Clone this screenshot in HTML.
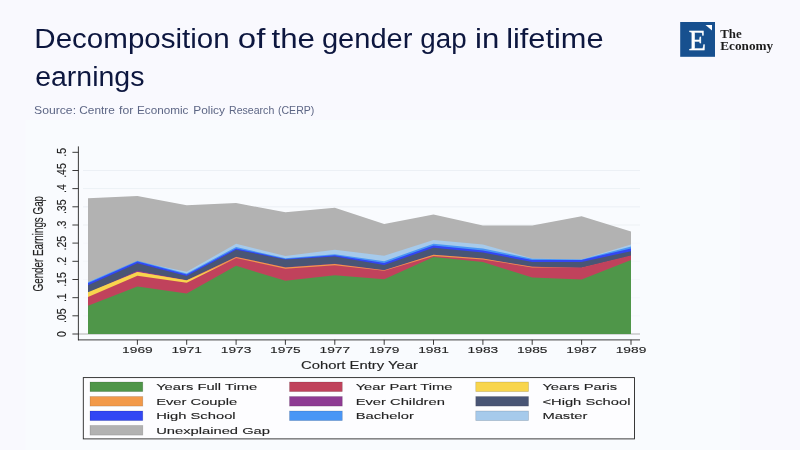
<!DOCTYPE html>
<html><head><meta charset="utf-8"><title>Decomposition of the gender gap in lifetime earnings</title>
<style>
html,body{margin:0;padding:0;}
body{width:800px;height:450px;overflow:hidden;background:#f9f9fe;font-family:"Liberation Sans",sans-serif;}
svg{display:block;position:absolute;left:0;top:0;}
svg text{font-family:"Liberation Sans",sans-serif;}
#chart text{stroke:#222;stroke-width:0.12px;}
.serif{font-family:"Liberation Serif",serif !important;}
</style></head><body>
<svg width="800" height="450" viewBox="0 0 800 450">
<rect x="0" y="0" width="800" height="450" fill="#f9f9fe"/>
<rect x="25.5" y="120" width="714.5" height="330" fill="#f9fbfe"/>
<!-- title -->
<text x="34.39" y="47.5" font-size="27" fill="#0d173f" textLength="195.27" lengthAdjust="spacingAndGlyphs">Decomposition</text>
<text x="237.88" y="47.5" font-size="27" fill="#0d173f" textLength="27.55" lengthAdjust="spacingAndGlyphs">of</text>
<text x="271.49" y="47.5" font-size="27" fill="#0d173f" textLength="43.44" lengthAdjust="spacingAndGlyphs">the</text>
<text x="321.94" y="47.5" font-size="27" fill="#0d173f" textLength="90.44" lengthAdjust="spacingAndGlyphs">gender</text>
<text x="420.29" y="47.5" font-size="27" fill="#0d173f" textLength="46.32" lengthAdjust="spacingAndGlyphs">gap</text>
<text x="475.03" y="47.5" font-size="27" fill="#0d173f" textLength="24.21" lengthAdjust="spacingAndGlyphs">in</text>
<text x="506.15" y="47.5" font-size="27" fill="#0d173f" textLength="97.46" lengthAdjust="spacingAndGlyphs">lifetime</text>
<text x="35.16" y="85.5" font-size="27" fill="#0d173f" textLength="109.29" lengthAdjust="spacingAndGlyphs">earnings</text>
<text x="34.01" y="113.7" font-size="11.5" fill="#5d6685" textLength="42.06" lengthAdjust="spacingAndGlyphs">Source:</text>
<text x="79.31" y="113.7" font-size="11.5" fill="#5d6685" textLength="35.52" lengthAdjust="spacingAndGlyphs">Centre</text>
<text x="119.08" y="113.7" font-size="11.5" fill="#5d6685" textLength="14.18" lengthAdjust="spacingAndGlyphs">for</text>
<text x="137.06" y="113.7" font-size="11.5" fill="#5d6685" textLength="51.37" lengthAdjust="spacingAndGlyphs">Economic</text>
<text x="193.25" y="113.7" font-size="11.5" fill="#5d6685" textLength="31.75" lengthAdjust="spacingAndGlyphs">Policy</text>
<text x="229.05" y="113.7" font-size="11.5" fill="#5d6685" textLength="45.24" lengthAdjust="spacingAndGlyphs">Research</text>
<text x="277.97" y="113.7" font-size="11.5" fill="#5d6685" textLength="36.39" lengthAdjust="spacingAndGlyphs">(CERP)</text>
<!-- logo -->
<rect x="680.2" y="22" width="34.8" height="34.8" fill="#17508f"/>
<polygon points="705.5,25 712,25 712,30.5" fill="#fff"/>
<text class="serif" x="697.3" y="49.8" font-size="30.4" fill="#fff" stroke="#fff" stroke-width="0.45" text-anchor="middle" textLength="17.2" lengthAdjust="spacingAndGlyphs">E</text>
<text class="serif" x="720.2" y="38.4" font-size="13.3" font-weight="bold" fill="#1c1c1c" textLength="21.5" lengthAdjust="spacingAndGlyphs">The</text>
<text class="serif" x="720.2" y="49.6" font-size="13.3" font-weight="bold" fill="#1c1c1c" textLength="53" lengthAdjust="spacingAndGlyphs">Economy</text>
<!-- chart -->
<defs><filter id="soft" x="0" y="0" width="800" height="450" filterUnits="userSpaceOnUse"><feGaussianBlur stdDeviation="0.38"/></filter></defs>
<g id="chart" filter="url(#soft)">
<line x1="83" x2="640" y1="315.8" y2="315.8" stroke="#e9eef3" stroke-opacity="0.35" stroke-width="0.8"/>
<line x1="83" x2="640" y1="297.7" y2="297.7" stroke="#e9eef3" stroke-opacity="0.35" stroke-width="0.8"/>
<line x1="83" x2="640" y1="279.5" y2="279.5" stroke="#e9eef3" stroke-opacity="0.35" stroke-width="0.8"/>
<line x1="83" x2="640" y1="261.3" y2="261.3" stroke="#e9eef3" stroke-opacity="0.35" stroke-width="0.8"/>
<line x1="83" x2="640" y1="243.1" y2="243.1" stroke="#e9eef3" stroke-opacity="0.35" stroke-width="0.8"/>
<line x1="83" x2="640" y1="225.0" y2="225.0" stroke="#e9eef3" stroke-opacity="1" stroke-width="0.8"/>
<line x1="83" x2="640" y1="206.8" y2="206.8" stroke="#e9eef3" stroke-opacity="1" stroke-width="0.8"/>
<line x1="83" x2="640" y1="188.6" y2="188.6" stroke="#e9eef3" stroke-opacity="1" stroke-width="0.8"/>
<line x1="83" x2="640" y1="170.5" y2="170.5" stroke="#e9eef3" stroke-opacity="1" stroke-width="0.8"/>
<line x1="78.4" x2="640" y1="334" y2="334" stroke="#a8a8a8" stroke-width="0.9"/>
<polygon points="88.0,198.3 137.4,196.1 186.7,205.2 236.1,203.1 285.4,212.2 334.8,207.7 384.2,223.9 433.5,214.4 482.9,225.6 532.2,225.6 581.6,216.2 631.0,231.4 631.0,246.4 581.6,261.4 532.2,260.5 482.9,246.4 433.5,241.9 384.2,257.8 334.8,251.8 285.4,257.9 236.1,245.8 186.7,273.8 137.4,262.7 88.0,284.1" fill="#b2b2b2"/>
<polygon points="88.0,282.1 137.4,261.4 186.7,271.8 236.1,243.8 285.4,255.9 334.8,249.8 384.2,255.8 433.5,239.9 482.9,244.4 532.2,258.5 581.6,259.4 631.0,244.4 631.0,248.4 581.6,261.5 532.2,260.7 482.9,250.5 433.5,245.8 384.2,263.2 334.8,256.2 285.4,260.3 236.1,249.0 186.7,275.4 137.4,262.7 88.0,284.2" fill="#a6caeb"/>
<polygon points="88.0,282.2 137.4,260.7 186.7,273.4 236.1,247.0 285.4,258.3 334.8,254.2 384.2,261.2 433.5,243.8 482.9,248.5 532.2,258.7 581.6,259.5 631.0,246.4 631.0,250.4 581.6,261.9 532.2,262.0 482.9,252.4 433.5,247.6 384.2,265.0 334.8,257.3 285.4,260.9 236.1,250.4 186.7,276.6 137.4,263.5 88.0,285.3" fill="#4a96f5"/>
<polygon points="88.0,283.3 137.4,261.5 186.7,274.6 236.1,248.4 285.4,258.9 334.8,255.3 384.2,263.0 433.5,245.6 482.9,250.4 532.2,260.0 581.6,259.9 631.0,248.4 631.0,253.2 581.6,263.9 532.2,263.9 482.9,254.6 433.5,249.7 384.2,267.0 334.8,258.4 285.4,261.4 236.1,251.8 186.7,278.0 137.4,265.2 88.0,287.2" fill="#3046f4"/>
<polygon points="88.0,285.2 137.4,263.2 186.7,276.0 236.1,249.8 285.4,259.4 334.8,256.4 384.2,265.0 433.5,247.7 482.9,252.6 532.2,261.9 581.6,261.9 631.0,251.2 631.0,257.6 581.6,269.4 532.2,268.6 482.9,260.5 433.5,256.7 384.2,272.1 334.8,265.8 285.4,269.3 236.1,258.8 186.7,282.2 137.4,272.7 88.0,294.3" fill="#4a5575"/>
<polygon points="88.0,293.0 137.4,270.7 186.7,280.2 236.1,256.8 285.4,267.3 334.8,263.8 384.2,270.1 433.5,254.7 482.9,258.5 532.2,266.6 581.6,268.1 631.0,256.3 631.0,257.6 581.6,269.4 532.2,268.7 482.9,260.6 433.5,256.8 384.2,272.2 334.8,265.9 285.4,269.4 236.1,258.9 186.7,282.3 137.4,273.9 88.0,294.3" fill="#8e3a93"/>
<polygon points="88.0,293.0 137.4,271.9 186.7,280.3 236.1,256.9 285.4,267.4 334.8,263.9 384.2,270.2 433.5,254.8 482.9,258.6 532.2,266.7 581.6,268.1 631.0,256.3 631.0,257.6 581.6,269.4 532.2,269.4 482.9,261.4 433.5,257.9 384.2,272.8 334.8,267.3 285.4,270.7 236.1,260.0 186.7,282.5 137.4,274.1 88.0,294.3" fill="#f2994a"/>
<polygon points="88.0,292.3 137.4,272.1 186.7,280.5 236.1,258.7 285.4,269.4 334.8,266.0 384.2,271.5 433.5,256.6 482.9,260.1 532.2,268.1 581.6,268.1 631.0,256.3 631.0,257.6 581.6,269.4 532.2,269.4 482.9,261.4 433.5,257.9 384.2,272.8 334.8,267.3 285.4,270.7 236.1,260.0 186.7,284.7 137.4,277.8 88.0,299.0" fill="#f8d54e"/>
<polygon points="88.0,297.0 137.4,275.8 186.7,282.7 236.1,258.0 285.4,268.7 334.8,265.3 384.2,270.8 433.5,255.9 482.9,259.4 532.2,267.4 581.6,267.4 631.0,255.6 631.0,262.1 581.6,281.5 532.2,279.5 482.9,264.1 433.5,259.1 384.2,281.2 334.8,277.2 285.4,282.8 236.1,267.8 186.7,295.4 137.4,288.4 88.0,307.7" fill="#c0435c"/>
<polygon points="88.0,305.7 137.4,286.4 186.7,293.4 236.1,265.8 285.4,280.8 334.8,275.2 384.2,279.2 433.5,257.1 482.9,262.1 532.2,277.5 581.6,279.5 631.0,260.1 631.0,334.0 88.0,334.0" fill="#50964a"/>
<line x1="78.4" x2="78.4" y1="146.4" y2="340.3" stroke="#262626" stroke-width="0.9"/>
<line x1="78" x2="640" y1="339.9" y2="339.9" stroke="#262626" stroke-width="0.9"/>
<line x1="72.4" x2="78.4" y1="334.0" y2="334.0" stroke="#262626" stroke-width="0.9"/>
<text transform="translate(65.6,334.0) rotate(-90) scale(1,1.3)" text-anchor="middle" font-size="10.5" fill="#222">0</text>
<line x1="72.4" x2="78.4" y1="315.8" y2="315.8" stroke="#262626" stroke-width="0.9"/>
<text transform="translate(65.6,315.8) rotate(-90) scale(1,1.3)" text-anchor="middle" font-size="10.5" fill="#222">.05</text>
<line x1="72.4" x2="78.4" y1="297.7" y2="297.7" stroke="#262626" stroke-width="0.9"/>
<text transform="translate(65.6,297.7) rotate(-90) scale(1,1.3)" text-anchor="middle" font-size="10.5" fill="#222">.1</text>
<line x1="72.4" x2="78.4" y1="279.5" y2="279.5" stroke="#262626" stroke-width="0.9"/>
<text transform="translate(65.6,279.5) rotate(-90) scale(1,1.3)" text-anchor="middle" font-size="10.5" fill="#222">.15</text>
<line x1="72.4" x2="78.4" y1="261.3" y2="261.3" stroke="#262626" stroke-width="0.9"/>
<text transform="translate(65.6,261.3) rotate(-90) scale(1,1.3)" text-anchor="middle" font-size="10.5" fill="#222">.2</text>
<line x1="72.4" x2="78.4" y1="243.1" y2="243.1" stroke="#262626" stroke-width="0.9"/>
<text transform="translate(65.6,243.1) rotate(-90) scale(1,1.3)" text-anchor="middle" font-size="10.5" fill="#222">.25</text>
<line x1="72.4" x2="78.4" y1="225.0" y2="225.0" stroke="#262626" stroke-width="0.9"/>
<text transform="translate(65.6,225.0) rotate(-90) scale(1,1.3)" text-anchor="middle" font-size="10.5" fill="#222">.3</text>
<line x1="72.4" x2="78.4" y1="206.8" y2="206.8" stroke="#262626" stroke-width="0.9"/>
<text transform="translate(65.6,206.8) rotate(-90) scale(1,1.3)" text-anchor="middle" font-size="10.5" fill="#222">.35</text>
<line x1="72.4" x2="78.4" y1="188.6" y2="188.6" stroke="#262626" stroke-width="0.9"/>
<text transform="translate(65.6,188.6) rotate(-90) scale(1,1.3)" text-anchor="middle" font-size="10.5" fill="#222">.4</text>
<line x1="72.4" x2="78.4" y1="170.5" y2="170.5" stroke="#262626" stroke-width="0.9"/>
<text transform="translate(65.6,170.5) rotate(-90) scale(1,1.3)" text-anchor="middle" font-size="10.5" fill="#222">.45</text>
<line x1="72.4" x2="78.4" y1="152.3" y2="152.3" stroke="#262626" stroke-width="0.9"/>
<text transform="translate(65.6,152.3) rotate(-90) scale(1,1.3)" text-anchor="middle" font-size="10.5" fill="#222">.5</text>

<line x1="137.4" x2="137.4" y1="339.9" y2="344.8" stroke="#262626" stroke-width="0.9"/>
<text x="137.4" y="353.4" text-anchor="middle" font-size="9.8" textLength="30.6" lengthAdjust="spacingAndGlyphs" fill="#222">1969</text>
<line x1="186.7" x2="186.7" y1="339.9" y2="344.8" stroke="#262626" stroke-width="0.9"/>
<text x="186.7" y="353.4" text-anchor="middle" font-size="9.8" textLength="30.6" lengthAdjust="spacingAndGlyphs" fill="#222">1971</text>
<line x1="236.1" x2="236.1" y1="339.9" y2="344.8" stroke="#262626" stroke-width="0.9"/>
<text x="236.1" y="353.4" text-anchor="middle" font-size="9.8" textLength="30.6" lengthAdjust="spacingAndGlyphs" fill="#222">1973</text>
<line x1="285.4" x2="285.4" y1="339.9" y2="344.8" stroke="#262626" stroke-width="0.9"/>
<text x="285.4" y="353.4" text-anchor="middle" font-size="9.8" textLength="30.6" lengthAdjust="spacingAndGlyphs" fill="#222">1975</text>
<line x1="334.8" x2="334.8" y1="339.9" y2="344.8" stroke="#262626" stroke-width="0.9"/>
<text x="334.8" y="353.4" text-anchor="middle" font-size="9.8" textLength="30.6" lengthAdjust="spacingAndGlyphs" fill="#222">1977</text>
<line x1="384.2" x2="384.2" y1="339.9" y2="344.8" stroke="#262626" stroke-width="0.9"/>
<text x="384.2" y="353.4" text-anchor="middle" font-size="9.8" textLength="30.6" lengthAdjust="spacingAndGlyphs" fill="#222">1979</text>
<line x1="433.5" x2="433.5" y1="339.9" y2="344.8" stroke="#262626" stroke-width="0.9"/>
<text x="433.5" y="353.4" text-anchor="middle" font-size="9.8" textLength="30.6" lengthAdjust="spacingAndGlyphs" fill="#222">1981</text>
<line x1="482.9" x2="482.9" y1="339.9" y2="344.8" stroke="#262626" stroke-width="0.9"/>
<text x="482.9" y="353.4" text-anchor="middle" font-size="9.8" textLength="30.6" lengthAdjust="spacingAndGlyphs" fill="#222">1983</text>
<line x1="532.2" x2="532.2" y1="339.9" y2="344.8" stroke="#262626" stroke-width="0.9"/>
<text x="532.2" y="353.4" text-anchor="middle" font-size="9.8" textLength="30.6" lengthAdjust="spacingAndGlyphs" fill="#222">1985</text>
<line x1="581.6" x2="581.6" y1="339.9" y2="344.8" stroke="#262626" stroke-width="0.9"/>
<text x="581.6" y="353.4" text-anchor="middle" font-size="9.8" textLength="30.6" lengthAdjust="spacingAndGlyphs" fill="#222">1987</text>
<line x1="631.0" x2="631.0" y1="339.9" y2="344.8" stroke="#262626" stroke-width="0.9"/>
<text x="631.0" y="353.4" text-anchor="middle" font-size="9.8" textLength="30.6" lengthAdjust="spacingAndGlyphs" fill="#222">1989</text>

<text transform="translate(43.4,243.7) rotate(-90) scale(1,1.36)" text-anchor="middle" font-size="10.5" textLength="95.5" lengthAdjust="spacingAndGlyphs" fill="#222">Gender Earnings Gap</text>
<text x="359.5" y="369.4" text-anchor="middle" font-size="10" textLength="117" lengthAdjust="spacingAndGlyphs" fill="#222">Cohort Entry Year</text>
<rect x="83.3" y="377.6" width="551.2" height="61.3" fill="#fdfdff" stroke="#262626" stroke-width="0.9"/>
<rect x="90" y="382.0" width="52.8" height="9.6" fill="#50964a" stroke="#000" stroke-opacity="0.18" stroke-width="0.7"/>
<text transform="translate(156.15,390.15) scale(1.49,1)" font-size="9.9" fill="#222">Years Full Time</text>
<rect x="289.5" y="382.0" width="52.8" height="9.6" fill="#c0435c" stroke="#000" stroke-opacity="0.18" stroke-width="0.7"/>
<text transform="translate(355.65,390.15) scale(1.49,1)" font-size="9.9" fill="#222">Year Part Time</text>
<rect x="475.75" y="382.0" width="52.8" height="9.6" fill="#f8d54e" stroke="#000" stroke-opacity="0.18" stroke-width="0.7"/>
<text transform="translate(542.4,390.15) scale(1.49,1)" font-size="9.9" fill="#222">Years Paris</text>
<rect x="90" y="396.5" width="52.8" height="9.6" fill="#f2994a" stroke="#000" stroke-opacity="0.18" stroke-width="0.7"/>
<text transform="translate(156.15,404.65) scale(1.49,1)" font-size="9.9" fill="#222">Ever Couple</text>
<rect x="289.5" y="396.5" width="52.8" height="9.6" fill="#8e3a93" stroke="#000" stroke-opacity="0.18" stroke-width="0.7"/>
<text transform="translate(355.65,404.65) scale(1.49,1)" font-size="9.9" fill="#222">Ever Children</text>
<rect x="475.75" y="396.5" width="52.8" height="9.6" fill="#4a5575" stroke="#000" stroke-opacity="0.18" stroke-width="0.7"/>
<text transform="translate(542.4,404.65) scale(1.49,1)" font-size="9.9" fill="#222">&lt;High School</text>
<rect x="90" y="411.0" width="52.8" height="9.6" fill="#3046f4" stroke="#000" stroke-opacity="0.18" stroke-width="0.7"/>
<text transform="translate(156.15,419.15) scale(1.49,1)" font-size="9.9" fill="#222">High School</text>
<rect x="289.5" y="411.0" width="52.8" height="9.6" fill="#4a96f5" stroke="#000" stroke-opacity="0.18" stroke-width="0.7"/>
<text transform="translate(355.65,419.15) scale(1.49,1)" font-size="9.9" fill="#222">Bachelor</text>
<rect x="475.75" y="411.0" width="52.8" height="9.6" fill="#a6caeb" stroke="#000" stroke-opacity="0.18" stroke-width="0.7"/>
<text transform="translate(542.4,419.15) scale(1.49,1)" font-size="9.9" fill="#222">Master</text>
<rect x="90" y="425.5" width="52.8" height="9.6" fill="#b2b2b2" stroke="#000" stroke-opacity="0.18" stroke-width="0.7"/>
<text transform="translate(156.15,433.65) scale(1.49,1)" font-size="9.9" fill="#222">Unexplained Gap</text>

</g>
</svg>
</body></html>
